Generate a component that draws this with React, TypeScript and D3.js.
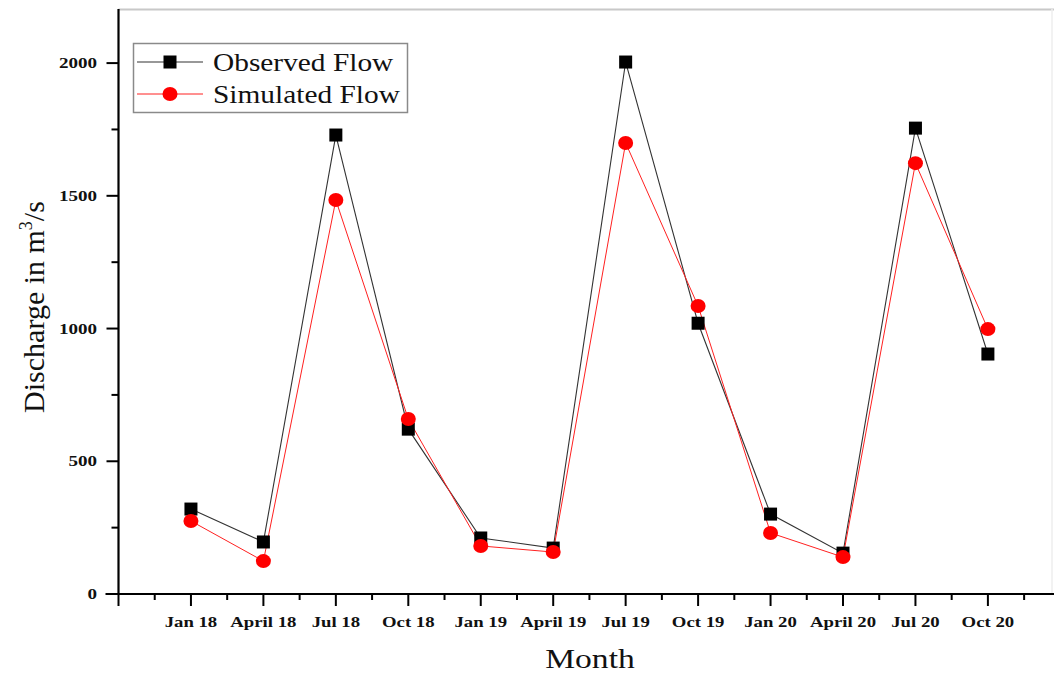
import React from "react";
import * as d3 from "d3";

const months = ["Jan 18", "April 18", "Jul 18", "Oct 18", "Jan 19", "April 19", "Jul 19", "Oct 19", "Jan 20", "April 20", "Jul 20", "Oct 20"];
const observed = [320, 196, 1729, 621, 211, 173, 2004, 1020, 301, 154, 1755, 904];
const simulated = [275, 124, 1484, 659, 181, 158, 1699, 1085, 230, 139, 1623, 998];
const yMajorTicks = [0, 500, 1000, 1500, 2000];
const yMinorTicks = [250, 750, 1250, 1750];

const W = 1054;
const H = 675;
const FONT = "'Liberation Serif', 'Times New Roman', serif";

export default function App() {
  const x = d3.scaleLinear().domain([-1, 11]).range([118.5, 118.5 + 12 * 72.45]);
  const y = d3.scaleLinear().domain([0, 2200]).range([594, 10]);
  const idx = months.map((_, i) => i);
  const line = d3
    .line<number>()
    .x((_, i) => x(i))
    .y((d) => y(d));

  const minorX: number[] = [];
  for (let v = -0.5; x(v) < W; v += 1) minorX.push(v);
  const majorX: number[] = [];
  for (let v = -1; x(v) < W; v += 1) majorX.push(v);

  const sq = 13;
  const axisY = y(0);
  const axisX = x(-1);

  return (
    <svg width={W} height={H} style={{ position: "absolute", left: 0, top: 0, background: "#fff" }}>
      <rect width={W} height={H} fill="#fff" />
      {/* frame top / right */}
      <line x1={axisX} x2={W} y1={9.5} y2={9.5} stroke="#c8c8c8" strokeWidth={2} />
      <line x1={1052} x2={1052} y1={9} y2={axisY} stroke="#eeeeee" strokeWidth={1.5} />

      {/* series lines */}
      <path d={line(observed) || ""} fill="none" stroke="#333" strokeWidth={1.1} />
      <path d={line(simulated) || ""} fill="none" stroke="#ff2020" strokeWidth={1} />
      {observed.map((v, i) => (
        <rect key={"o" + i} x={x(i) - sq / 2} y={y(v) - sq / 2} width={sq} height={sq} fill="#000" />
      ))}
      {simulated.map((v, i) => (
        <ellipse key={"s" + i} cx={x(i)} cy={y(v)} rx={7.5} ry={7} fill="#ff0000" />
      ))}

      {/* y axis */}
      <line x1={axisX} x2={axisX} y1={9} y2={axisY} stroke="#000" strokeWidth={2.2} />
      {yMajorTicks.map((t) => (
        <g key={"ym" + t}>
          <line x1={axisX - 12} x2={axisX} y1={y(t)} y2={y(t)} stroke="#000" strokeWidth={2} />
          <text
            transform={`translate(97,${y(t) + 5}) scale(1.27,1)`}
            textAnchor="end"
            fontFamily={FONT}
            fontWeight="bold"
            fontSize={15}
            fill="#111"
          >
            {t}
          </text>
        </g>
      ))}
      {yMinorTicks.map((t) => (
        <line key={"yn" + t} x1={axisX - 7} x2={axisX} y1={y(t)} y2={y(t)} stroke="#000" strokeWidth={2} />
      ))}

      {/* x axis */}
      <line x1={axisX - 13} x2={W} y1={axisY} y2={axisY} stroke="#000" strokeWidth={2.2} />
      {majorX.map((v) => (
        <line key={"xm" + v} x1={x(v)} x2={x(v)} y1={axisY} y2={axisY + 12} stroke="#000" strokeWidth={2} />
      ))}
      {minorX.map((v) => (
        <line key={"xn" + v} x1={x(v)} x2={x(v)} y1={axisY} y2={axisY + 6} stroke="#000" strokeWidth={2} />
      ))}
      {idx.map((i) => (
        <text
          key={"xl" + i}
          transform={`translate(${x(i)},627) scale(1.25,1)`}
          textAnchor="middle"
          fontFamily={FONT}
          fontWeight="bold"
          fontSize={15}
          fill="#111"
        >
          {months[i]}
        </text>
      ))}

      {/* axis titles */}
      <text
        transform={`translate(590,668) scale(1.2,1)`}
        textAnchor="middle"
        fontFamily={FONT}
        fontSize={28}
        fill="#111"
      >
        Month
      </text>
      <text
        transform={`translate(44,307) rotate(-90)`}
        textAnchor="middle"
        fontFamily={FONT}
        fontSize={30}
        fill="#111"
      >
        Discharge in m
        <tspan fontSize={18} dy={-12}>3</tspan>
        <tspan dy={12}>/s</tspan>
      </text>

      {/* legend */}
      <rect x={133.5} y={43.5} width={274} height={69} fill="#fff" stroke="#8a8a8a" strokeWidth={1.5} />
      <line x1={137} x2={203} y1={62} y2={62} stroke="#333" strokeWidth={1.1} />
      <rect x={170 - sq / 2} y={62 - sq / 2} width={sq} height={sq} fill="#000" />
      <line x1={137} x2={203} y1={94} y2={94} stroke="#ff2020" strokeWidth={1} />
      <ellipse cx={170} cy={94} rx={7.5} ry={7} fill="#ff0000" />
      <text transform="translate(213,71) scale(1.13,1)" fontFamily={FONT} fontSize={26} fill="#111">
        Observed Flow
      </text>
      <text transform="translate(213,103) scale(1.13,1)" fontFamily={FONT} fontSize={26} fill="#111">
        Simulated Flow
      </text>
    </svg>
  );
}
